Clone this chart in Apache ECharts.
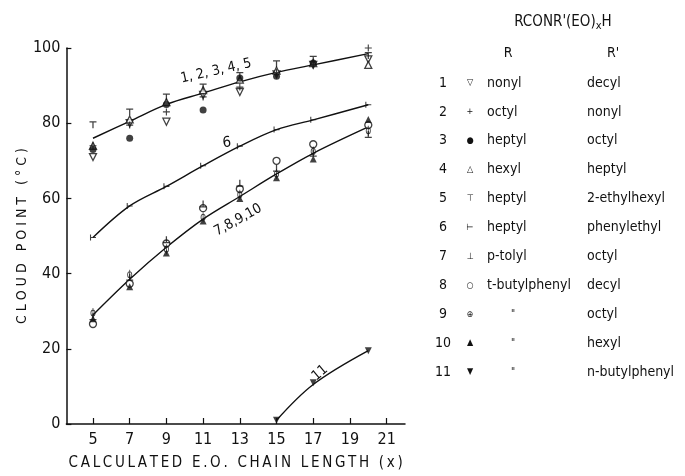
<!DOCTYPE html>
<html><head><meta charset="utf-8">
<script src="https://cdn.jsdelivr.net/npm/echarts@6/dist/echarts.min.js"></script>
<style>html,body{margin:0;padding:0;background:#fff}#c{width:685px;height:476px}</style>
</head><body><div id="c"></div>
<script>
// ---------- data ----------
const xValues = [5, 7, 9, 11, 13, 15, 17, 20];
const xTicks = [5, 7, 9, 11, 13, 15, 17, 19, 21];
const s1 = [71, 80, 80.4, 87.5, 88.3, 93, 95.5, 97];      // nonyl / decyl  (open down triangle)
const s2 = [74, 79.5, 83, 87, 89.6, 93.5, 95.5, 100];     // octyl / nonyl  (+)
const s3 = [73, 76, 85, 83.5, 92, 92.5, 96, 101.5];       // heptyl / octyl (filled circle)
const s4 = [74, 81, 85.6, 88.8, 91.6, 94, 96, 95.5];      // hexyl / heptyl (open triangle)
const s5 = [79.6, 83, 87, 89.6, 92.7, 95.8, 97, 98];      // heptyl / 2-ethylhexyl (T)
const s6 = [49.6, 58, 63.2, 68.7, 73.9, 78.3, 80.9, 84.9];// heptyl / phenylethyl
const s7 = [28.5, 39, 49, 58.5, 64, 68, 72, 77];          // p-tolyl / octyl
const s8 = [26.6, 37.3, 48, 57.4, 62.5, 70, 74.4, 79.5];  // t-butylphenyl / decyl (open circle)
const s9 = [29.5, 39.7, 46.5, 55, 61, 66.5, 72.5, 78];    // t-butylphenyl / octyl
const s10 = [28, 36.5, 45.5, 54, 60, 65.5, 70.5, 81];     // t-butylphenyl / hexyl (filled triangle)
const x11 = [15, 17, 20];
const s11 = [1, 11, 19.5];                                 // t-butylphenyl / n-butylphenyl
const fitA = [76, 80.5, 85, 88, 91, 93.5, 95.5, 98.5];
const fit6 = [49.6, 58, 63.2, 68.7, 73.9, 78.3, 80.9, 84.9];
const fitB = [29, 38.5, 47, 54.5, 60.5, 66.5, 72, 79];
const fit11 = [1, 10.5, 19.5];
const legendNums = ['1','2','3','4','5','6','7','8','9','10','11'];
const legendSyms = ['▽','+','●','△','⊤','⊢','⊥','○','⊕','▲','▼'];
const legendR = ['nonyl','octyl','heptyl','hexyl','heptyl','heptyl','p-tolyl','t-butylphenyl','"','"','"'];
const legendRp = ['decyl','nonyl','octyl','heptyl','2-ethylhexyl','phenylethyl','octyl','decyl','octyl','hexyl','n-butylphenyl'];
const curveLabels = ['1, 2, 3, 4, 5', '6', '7,8,9,10', '11'];
const xTitle = 'CALCULATED E.O. CHAIN LENGTH (x)';
const yTitle = 'CLOUD POINT (°C)';

// ---------- style ----------
const FONT = '"DejaVu Sans Condensed","Liberation Sans Narrow","DejaVu Sans",sans-serif';
const K = '#111';
const P_PLUS = 'path://M4.2,0H5.8V4.2H10V5.8H5.8V10H4.2V5.8H0V4.2H4.2Z';
const P_TEE = 'path://M0,0H10V1.8H5.9V10H4.1V1.8H0Z';
const P_UPTACK = 'path://M4.1,0H5.9V8.2H10V10H0V8.2H4.1Z';
const P_RTACK = 'path://M0,0H1.8V4.1H10V5.9H1.8V10H0Z';
const P_PHI = 'path://M5,0A5,5 0 1,1 5,10A5,5 0 1,1 5,0Z M5,1.6A3.4,3.4 0 1,0 5,8.4A3.4,3.4 0 1,0 5,1.6Z M4.2,-2H5.8V12H4.2Z';
const spaced = (s, sep, wsep) => s.split(' ').map(w => w.split('').join(sep)).join(wsep);

const pts = (xs, ys) => xs.map((x, i) => [x, ys[i]]);
const hollow = {color: '#fff', borderColor: K, borderWidth: 1.3};
const solid = {color: K};

function sc(name, data, symbol, size, style, rot) {
  return {name, type: 'scatter', data, symbol, symbolSize: size, symbolRotate: rot || 0,
          symbolKeepAspect: true, itemStyle: style, z: 5, silent: true};
}
function ln(data) {
  return {type: 'line', data, smooth: 0.35, showSymbol: false, symbol: 'none',
          lineStyle: {color: K, width: 1.4}, z: 2, silent: true};
}

const series = [
  ln(pts(xValues, fitA)), ln(pts(xValues, fit6)), ln(pts(xValues, fitB)), ln(pts(x11, fit11)),
  sc('1', pts(xValues, s1), 'triangle', 7, hollow, 180),
  sc('4', pts(xValues, s4), 'triangle', 7, hollow),
  sc('2', pts(xValues, s2), P_PLUS, 7, solid),
  sc('3', pts(xValues, s3), 'circle', 7, solid),
  sc('5', pts(xValues, s5), P_TEE, 7, solid),
  sc('6', pts(xValues, s6), P_RTACK, 6, solid),
  sc('8', pts(xValues, s8), 'circle', 7, hollow),
  sc('9', pts(xValues, s9), P_PHI, [7, 10], solid),
  sc('7', pts(xValues, s7), P_UPTACK, 7, solid),
  sc('10', pts(xValues, s10), 'triangle', 7, solid),
  sc('11', pts(x11, s11), 'triangle', 7, solid, 180)
];

// ---------- legend table (text) ----------
const g = [];
const tx = (text, x, y, opt) => g.push(Object.assign({type: 'text', x, y,
  style: Object.assign({text, font: '14px ' + FONT, fill: K, textVerticalAlign: 'middle'}, opt || {})}));
g.push({type: 'text', x: 563, y: 22, style: {
  text: "RCONR'(EO){s|x}H", font: '15px ' + FONT, fill: K, textAlign: 'center', textVerticalAlign: 'middle',
  rich: {s: {fontSize: 11, fontFamily: FONT, padding: [8, 0, 0, 0]}}}});
tx('R', 508, 53, {textAlign: 'center'});
tx("R'", 613, 53, {textAlign: 'center'});
legendNums.forEach((n, i) => {
  const y = 83 + 28.9 * i;
  tx(n, 443, y, {textAlign: 'center'});
  tx(legendSyms[i], 470, y, {textAlign: 'center', font: '9px ' + FONT});
  if (legendR[i] === '"') tx('"', 513, y, {textAlign: 'center', font: '10px ' + FONT});
  else tx(legendR[i], 487, y, {textAlign: 'left'});
  tx(legendRp[i], 587, y, {textAlign: 'left'});
});
// curve annotations
g.push({type: 'text', x: 216, y: 71, rotation: 0.22, style: {text: curveLabels[0], font: '14px ' + FONT, fill: K, textAlign: 'center', textVerticalAlign: 'middle'}});
g.push({type: 'text', x: 227, y: 143, rotation: 0.1, style: {text: curveLabels[1], font: '15px ' + FONT, fill: K, textAlign: 'center', textVerticalAlign: 'middle'}});
g.push({type: 'text', x: 238, y: 220, rotation: 0.5, style: {text: curveLabels[2], font: '14px ' + FONT, fill: K, textAlign: 'center', textVerticalAlign: 'middle'}});
g.push({type: 'text', x: 320, y: 373, rotation: 0.7, style: {text: curveLabels[3], font: '14px ' + FONT, fill: K, textAlign: 'center', textVerticalAlign: 'middle'}});

const chart = echarts.init(document.getElementById('c'), null, {renderer: 'canvas'});
chart.setOption({
  animation: false,
  backgroundColor: '#fff',
  grid: {left: 60, right: 280, top: 48, bottom: 46},
  xAxis: {
    type: 'value', min: 3.55, max: 22,
    name: spaced(xTitle, '\u2009', '\u2009 \u2009'),
    nameLocation: 'middle', nameGap: 32,
    nameTextStyle: {fontFamily: FONT, fontSize: 15, color: K},
    axisLine: {lineStyle: {color: K, width: 1.5}},
    axisTick: {inside: true, length: 6, lineStyle: {color: K, width: 1.2}, customValues: xTicks},
    axisLabel: {customValues: xTicks, fontFamily: FONT, fontSize: 16, color: K, margin: 8},
    splitLine: {show: false}
  },
  yAxis: {
    type: 'value', min: 0, max: 100, interval: 20,
    name: spaced(yTitle, ' ', '   '),
    nameLocation: 'middle', nameGap: 36, nameRotate: 90,
    nameTextStyle: {fontFamily: FONT, fontSize: 14, color: K},
    axisLine: {show: true, lineStyle: {color: K, width: 1.5}},
    axisTick: {show: true, inside: true, length: 5, lineStyle: {color: K, width: 1.2}},
    axisLabel: {fontFamily: FONT, fontSize: 16, color: K, margin: 6},
    splitLine: {show: false}
  },
  series,
  graphic: g
});
</script></body></html>
